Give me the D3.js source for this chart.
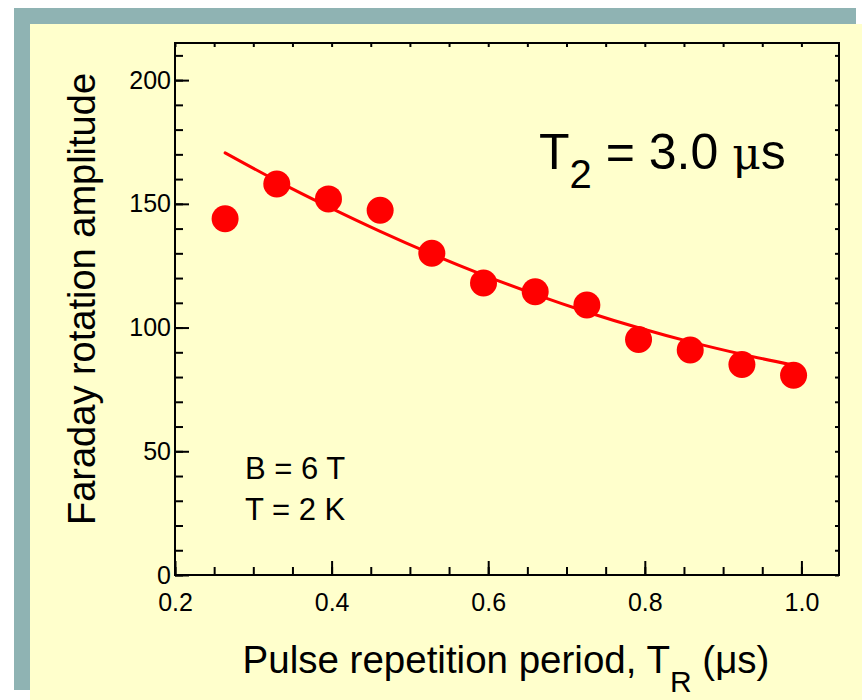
<!DOCTYPE html>
<html>
<head>
<meta charset="utf-8">
<script src="https://cdn.jsdelivr.net/npm/d3@7"></script>
<style>
  body { margin: 0; background: #fff; }
  text { font-family: "Liberation Sans", Arial, sans-serif; fill: #000; }
</style>
</head>
<body>
<svg id="chart"></svg>
<script>
// data
const periods = [0.264, 0.330, 0.396, 0.462, 0.528, 0.594, 0.660, 0.726, 0.792, 0.858, 0.924, 0.990];
const amplitudes = [144.0, 158.0, 152.0, 147.4, 130.0, 118.0, 114.5, 109.1, 95.2, 90.9, 85.1, 80.7];
const fitAmplitudes = [170.6, 159.3, 148.8, 138.9, 129.7, 121.2, 113.4, 106.3, 99.9, 94.2, 89.2, 84.8];
const xTickLabels = [0.2, 0.4, 0.6, 0.8, 1.0];
const yTickLabels = [0, 50, 100, 150, 200];
const xMinorTicks = d3.range(4, 21).map(i => +(i * 0.05).toFixed(2));
const yMinorTicks = d3.range(0, 22).map(i => i * 10);

const width = 862, height = 700;
const plotLeft = 175, plotRight = 839, plotTop = 43, plotBottom = 575;

const svg = d3.select('#chart').attr('width', width).attr('height', height);

/* slide background */
svg.append('rect').attr('x', 30).attr('y', 24).attr('width', 832).attr('height', 676).attr('fill', '#ffffcc');
svg.append('rect').attr('x', 14).attr('y', 8).attr('width', 842).attr('height', 16).attr('fill', '#8fb3b3');
svg.append('rect').attr('x', 14).attr('y', 8).attr('width', 16).attr('height', 682).attr('fill', '#8fb3b3');

/* scales */
const x = d3.scaleLinear().domain([0.2, 1.048]).range([plotLeft, plotRight]);
const y = d3.scaleLinear().domain([0, 215]).range([plotBottom, plotTop]);

function styleAxis(g) {
  g.select('.domain').remove();
  g.selectAll('line').attr('stroke', '#000').attr('stroke-width', 2);
  g.selectAll('text').attr('font-size', 25).attr('font-family', '"Liberation Sans", Arial, sans-serif');
}

/* minor ticks (inside) */
svg.append('g').attr('transform', `translate(0,${plotBottom})`)
  .call(d3.axisBottom(x).tickValues(xMinorTicks).tickSize(-8).tickFormat(''))
  .call(styleAxis);
svg.append('g').attr('transform', `translate(${plotLeft},0)`)
  .call(d3.axisLeft(y).tickValues(yMinorTicks).tickSize(-8).tickFormat(''))
  .call(styleAxis);
svg.append('g').attr('transform', `translate(0,${plotTop})`)
  .call(d3.axisTop(x).tickValues(xMinorTicks).tickSize(-4).tickFormat(''))
  .call(styleAxis);
svg.append('g').attr('transform', `translate(${plotRight},0)`)
  .call(d3.axisRight(y).tickValues(yMinorTicks).tickSize(-4).tickFormat(''))
  .call(styleAxis);

/* major ticks with labels */
svg.append('g').attr('transform', `translate(0,${plotBottom})`)
  .call(d3.axisBottom(x).tickValues(xTickLabels).tickSize(-14).tickPadding(18).tickFormat(d3.format('.1f')))
  .call(styleAxis);
svg.append('g').attr('transform', `translate(${plotLeft},0)`)
  .call(d3.axisLeft(y).tickValues(yTickLabels).tickSize(-14).tickPadding(4).tickFormat(d3.format('d')))
  .call(styleAxis);

/* frame */
svg.append('rect')
  .attr('x', plotLeft).attr('y', plotTop)
  .attr('width', plotRight - plotLeft).attr('height', plotBottom - plotTop)
  .attr('fill', 'none').attr('stroke', '#000').attr('stroke-width', 2);

/* fit curve */
const line = d3.line()
  .x((d, i) => x(periods[i]))
  .y(d => y(d))
  .curve(d3.curveCatmullRom);

svg.append('path')
  .datum(fitAmplitudes)
  .attr('d', line)
  .attr('fill', 'none')
  .attr('stroke', '#ff0000')
  .attr('stroke-width', 3)
  .attr('stroke-linecap', 'round');

/* data points */
svg.selectAll('circle.pt')
  .data(amplitudes)
  .enter()
  .append('circle')
  .attr('class', 'pt')
  .attr('cx', (d, i) => x(periods[i]))
  .attr('cy', d => y(d))
  .attr('r', 13.5)
  .attr('fill', '#ff0000');

/* annotations */
const t2 = svg.append('text').attr('x', 539).attr('y', 169).attr('font-size', 50);
t2.append('tspan').text('T');
t2.append('tspan').attr('font-size', 40).attr('dy', 19).text('2');
t2.append('tspan').attr('dy', -19).text(' = 3.0 ');
t2.append('tspan').attr('font-size', 44).attr('font-family', '"DejaVu Serif", serif').text('μ');
t2.append('tspan').text('s');

svg.append('text').attr('x', 245).attr('y', 479).attr('font-size', 31).text('B = 6 T');
svg.append('text').attr('x', 245).attr('y', 520).attr('font-size', 31).text('T = 2 K');

/* axis titles */
const xt = svg.append('text')
  .attr('x', 506)
  .attr('y', 673)
  .attr('text-anchor', 'middle')
  .attr('font-size', 38.5);
xt.append('tspan').text('Pulse repetition period, T');
xt.append('tspan').attr('font-size', 30).attr('dy', 19).text('R');
xt.append('tspan').attr('dy', -19).text(' (μs)');

svg.append('text')
  .attr('transform', 'translate(95,299) rotate(-90)')
  .attr('text-anchor', 'middle')
  .attr('font-size', 38)
  .text('Faraday rotation amplitude');
</script>
</body>
</html>
